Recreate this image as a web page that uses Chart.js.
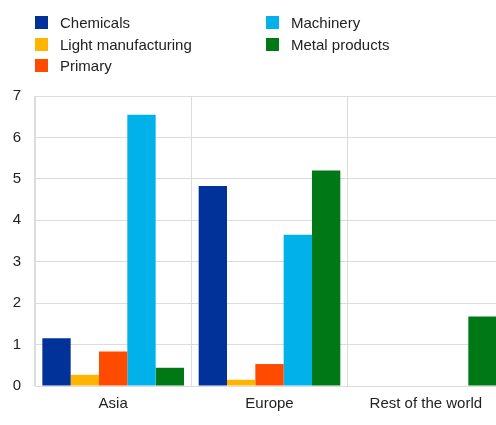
<!DOCTYPE html>
<html>
<head>
<meta charset="utf-8">
<script src="https://cdn.jsdelivr.net/npm/chart.js@4/dist/chart.umd.min.js"></script>
<style>
  html, body { margin: 0; padding: 0; overflow: hidden; background: #fff; }
  #wrap { position: relative; width: 496px; height: 425px; overflow: hidden; }
  #legend { position: absolute; left: 35px; top: 12px; font: 15px "Liberation Sans", Arial, sans-serif; color: #222; }
  .item { position: absolute; white-space: nowrap; height: 21px; line-height: 21px; }
  .box { position: absolute; top: 4px; width: 13px; height: 13px; }
  .lbl { position: absolute; left: 25px; top: 0; }
</style>
</head>
<body>
<div id="wrap">
  <canvas id="chart" width="504" height="425"></canvas>
  <div id="legend"></div>
</div>
<script>
// ECB sectoral breakdown by region
const regions = ['Asia', 'Europe', 'Rest of the world'];
const seriesNames = ['Chemicals', 'Light manufacturing', 'Primary', 'Machinery', 'Metal products'];
const seriesColors = ['#003299', '#ffb400', '#ff4b00', '#00b1ea', '#007816'];

const chemicals = [1.15, 4.83, null];
const lightManufacturing = [0.27, 0.15, null];
const primary = [0.83, 0.53, null];
const machinery = [6.55, 3.65, null];
const metalProducts = [0.44, 5.2, 1.68];

const yTicks = [0, 1, 2, 3, 4, 5, 6, 7];

const allValues = [chemicals, lightManufacturing, primary, machinery, metalProducts];

const ctx = document.getElementById('chart');
const chart = new Chart(ctx, {
    type: 'bar',
    data: {
        labels: regions,
        datasets: seriesNames.map((name, i) => ({
            label: name,
            data: allValues[i],
            backgroundColor: seriesColors[i],
            borderWidth: 0,
            barPercentage: 1,
            categoryPercentage: 0.906
        }))
    },
    options: {
        responsive: false,
        animation: false,
        layout: {
            padding: { top: 96, bottom: 0, left: 0, right: 0 }
        },
        font: { family: '"Liberation Sans", Arial, sans-serif', size: 15 },
        scales: {
            x: {
                afterFit: scale => { scale.height = 39; },
                grid: { color: '#dcdcdc', drawTicks: false, offset: true },
                border: { color: '#dcdcdc' },
                ticks: {
                    color: '#222',
                    padding: 9,
                    font: { family: '"Liberation Sans", Arial, sans-serif', size: 15 }
                }
            },
            y: {
                min: 0,
                max: yTicks[yTicks.length - 1],
                afterFit: scale => { scale.width = 35; },
                afterBuildTicks: scale => { scale.ticks = yTicks.map(v => ({ value: v })); },
                grid: { color: '#dcdcdc', drawTicks: false },
                border: { color: '#dcdcdc' },
                ticks: {
                    color: '#222',
                    padding: 14,
                    font: { family: '"Liberation Sans", Arial, sans-serif', size: 15 }
                }
            }
        },
        plugins: {
            legend: { display: false },
            tooltip: { enabled: false }
        }
    }
});

// legend in two columns, filled top to bottom
const legendEl = document.getElementById('legend');
chart.data.datasets.forEach((ds, i) => {
    const col = i < 3 ? 0 : 1;
    const row = i < 3 ? i : i - 3;
    const item = document.createElement('div');
    item.className = 'item';
    item.style.left = (col * 231) + 'px';
    item.style.top = (row * 21.5) + 'px';
    item.innerHTML = '<span class="box" style="background:' + ds.backgroundColor + '"></span><span class="lbl">' + ds.label + '</span>';
    legendEl.appendChild(item);
});
</script>
</body>
</html>
